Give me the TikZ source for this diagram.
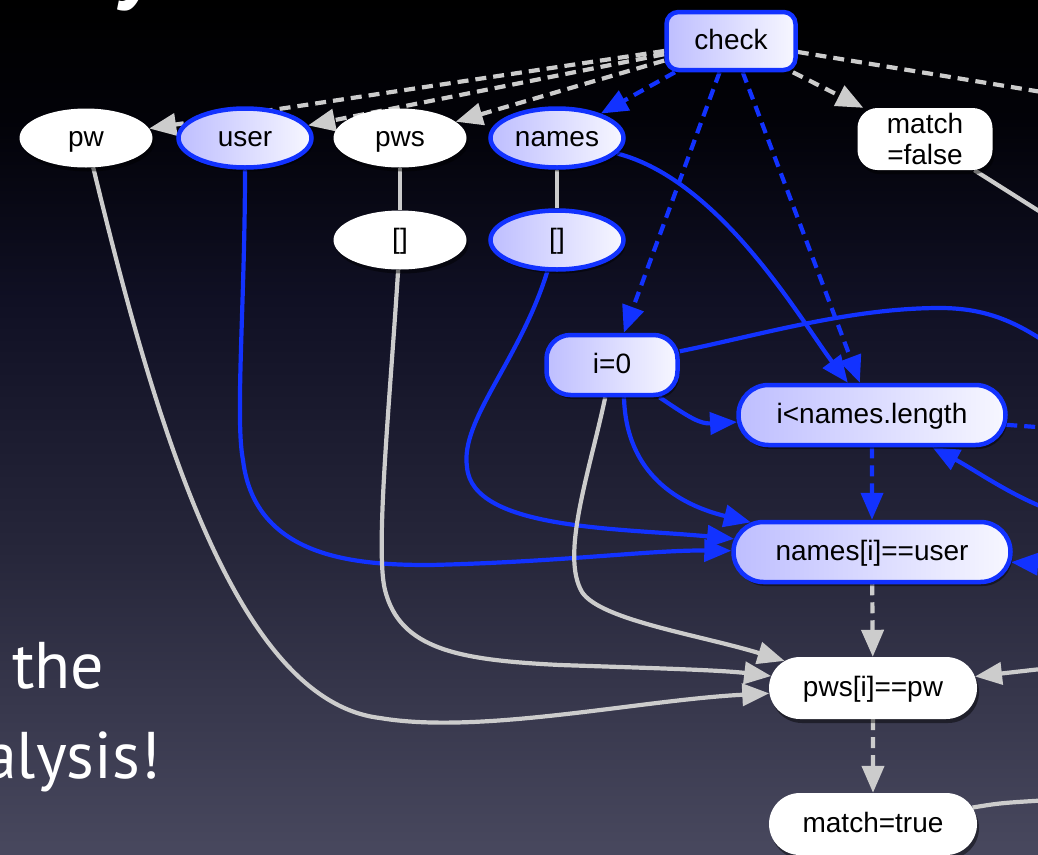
\documentclass[tikz,border=0pt]{standalone}
\usepackage{fontspec}
\setmainfont{Liberation Sans}
\newfontfamily\slidefont{PT Sans}
\usetikzlibrary{arrows.meta,shapes.geometric,shapes.misc,shadows,calc}
\pgfdeclarelayer{bglayer}
\pgfdeclarelayer{edges}
\pgfsetlayers{bglayer,edges,main}

\definecolor{eblue}{RGB}{18,50,255}
\definecolor{egray}{RGB}{204,204,204}
\definecolor{nleft}{RGB}{190,190,255}
\definecolor{nright}{RGB}{247,247,255}
\definecolor{bgA}{RGB}{72,72,94}
\definecolor{bgB}{RGB}{55,55,76}
\definecolor{bgC}{RGB}{38,38,58}
\definecolor{bgD}{RGB}{16,16,36}
\definecolor{bgE}{RGB}{2,2,8}
\pgfdeclareverticalshading{slidebg}{100bp}{color(0bp)=(bgA); color(25bp)=(bgA); color(34bp)=(bgB); color(42.8bp)=(bgC); color(57.4bp)=(bgD); color(68bp)=(bgE); color(75bp)=(black); color(100bp)=(black)}

\tikzset{
  nodefont/.style={font=\fontsize{28}{31}\selectfont, text=black, inner sep=0pt},
  oneline/.style={text height=21pt, text depth=5pt},
  nshadow/.style={drop shadow={shadow xshift=2pt,shadow yshift=-4pt,opacity=0.45,fill=black}},
  bnode/.style={nodefont, nshadow, draw=eblue, line width=4.5pt, left color=nleft, right color=nright},
  wnode/.style={nodefont, nshadow, fill=white},
  ell/.style={ellipse, minimum width=133pt, minimum height=59pt, oneline},
  pill/.style={rounded rectangle, minimum height=60pt, oneline},
  tipS/.style={-{Triangle[length=27pt,width=22pt]}},
  bedge/.style={draw=eblue, line width=4.2pt},
  gedge/.style={draw=egray, line width=4.2pt},
  dsh/.style={dash pattern=on 11pt off 7pt},
  bigtext/.style={text=white, inner sep=0pt, anchor=base west}
}

\begin{document}
\begin{tikzpicture}[x=1pt,y=-1pt]
\useasboundingbox (0,0) rectangle (1038,854);
\clip (0,0) rectangle (1038,854);

\begin{pgfonlayer}{bglayer}
\shade[shading=slidebg] (0,0) rectangle (1038,854);
\node[bigtext, font=\slidefont\fontsize{130}{130}\selectfont] (t0) at (-12,-16) {asy!};
\node[bigtext, font=\slidefont\fontsize{66}{80}\selectfont] (t1) at (12,688) {the};
\node[bigtext, font=\slidefont\fontsize{66}{80}\selectfont] (t2) at (-16,778) {alysis!};
\end{pgfonlayer}

% nodes
\node[bnode, rectangle, rounded corners=12pt, minimum width=129pt, minimum height=58pt, oneline] (check) at (731,41) {check};
\node[wnode, ell] (pw) at (86,138) {pw};
\node[bnode, ell] (user) at (245,138) {user};
\node[wnode, ell] (pws) at (400,138) {pws};
\node[bnode, ell] (names) at (557,138) {names};
\node[wnode, ell] (pwsarr) at (400,240) {[]};
\node[bnode, ell] (namesarr) at (557,240) {[]};
\node[wnode, rectangle, rounded corners=20pt, minimum width=135pt, minimum height=62pt, align=center] (mfalse) at (925,139) {match\\=false};
\node[bnode, rectangle, rounded corners=24pt, minimum width=131pt, minimum height=60pt, oneline] (i0) at (612,365) {i=0};
\node[bnode, pill, minimum width=267pt] (iln) at (872,415) {i<names.length};
\node[bnode, pill, minimum width=277pt] (nu) at (872,552) {names[i]==user};
\node[wnode, pill, minimum width=208pt, minimum height=62pt] (pp) at (873,688) {pws[i]==pw};
\node[wnode, pill, minimum width=208pt, minimum height=62pt] (mt) at (873,824) {match=true};

% off-picture ends
\coordinate (o1) at (1060,95);
\coordinate (o2) at (1050,345);
\coordinate (o3) at (1050,510);
\coordinate (o4) at (1050,565);
\coordinate (o5) at (1050,428);
\coordinate (o6) at (1050,668);
\coordinate (o7) at (1050,800);
\coordinate (o8) at (1050,218);

\begin{pgfonlayer}{edges}
% dashed gray from check
\draw[gedge, dsh, tipS] (check) -- (pw);
\draw[gedge, dsh, tipS] (check) -- (user);
\draw[gedge, dsh, tipS] (check) -- (pws);
\draw[gedge, dsh, tipS] (check) -- (mfalse);
\draw[gedge, dsh] (check) -- (o1);
% dashed blue from check
\draw[bedge, dsh, tipS] (check) -- (names);
\draw[bedge, dsh, tipS] (check) -- (i0);
\draw[bedge, dsh, tipS] (check) -- (iln);
% plain connectors
\draw[gedge] (pws) -- (pwsarr);
\draw[gedge] (names) -- (namesarr);
% solid blue
\draw[bedge, tipS] (names) .. controls (720,180) and (800,319) .. (iln);
\draw[bedge, tipS] (user) .. controls (245,300) and (235,420) .. (243,460)
  .. controls (255,560) and (360,565) .. (430,565)
  .. controls (560,562) and (650,550) .. (nu);
\draw[bedge, tipS] (namesarr) .. controls (520,360) and (460,420) .. (467,467)
  .. controls (472,530) and (620,528) .. (nu);
\draw[bedge, tipS] (i0) .. controls (690,418) and (700,424) .. (iln);
\draw[bedge, tipS] ([xshift=12pt]i0.south) .. controls (626,475) and (680,505) .. (nu);
\draw[bedge] (i0) .. controls (760,335) and (850,308) .. (940,308)
  .. controls (990,308) and (1020,325) .. (o2);
\draw[bedge, tipS] (o3) .. controls (1010,495) and (975,470) .. (iln);
\draw[bedge, tipS] (o4) -- (nu);
\draw[bedge, dsh] (iln) -- (o5);
\draw[bedge, dsh, tipS] (iln) -- (nu);
% solid gray
\draw[gedge, tipS] (pw) .. controls (150,400) and (230,700) .. (380,718)
  .. controls (480,735) and (640,700) .. (pp);
\draw[gedge, tipS] (pwsarr) .. controls (390,400) and (375,550) .. (385,590)
  .. controls (400,650) and (460,660) .. (560,665)
  .. controls (650,668) and (720,670) .. (pp);
\draw[gedge, tipS] (i0) .. controls (590,470) and (560,555) .. (582,592)
  .. controls (600,620) and (700,635) .. (pp);
\draw[gedge, tipS] (o6) -- (pp);
\draw[gedge] (mt) .. controls (1000,803) .. (o7);
\draw[gedge] (mfalse) -- (o8);
\draw[gedge, dsh, tipS] (nu) -- (pp);
\draw[gedge, dsh, tipS] (pp) -- (mt);
\end{pgfonlayer}
\end{tikzpicture}
\end{document}
